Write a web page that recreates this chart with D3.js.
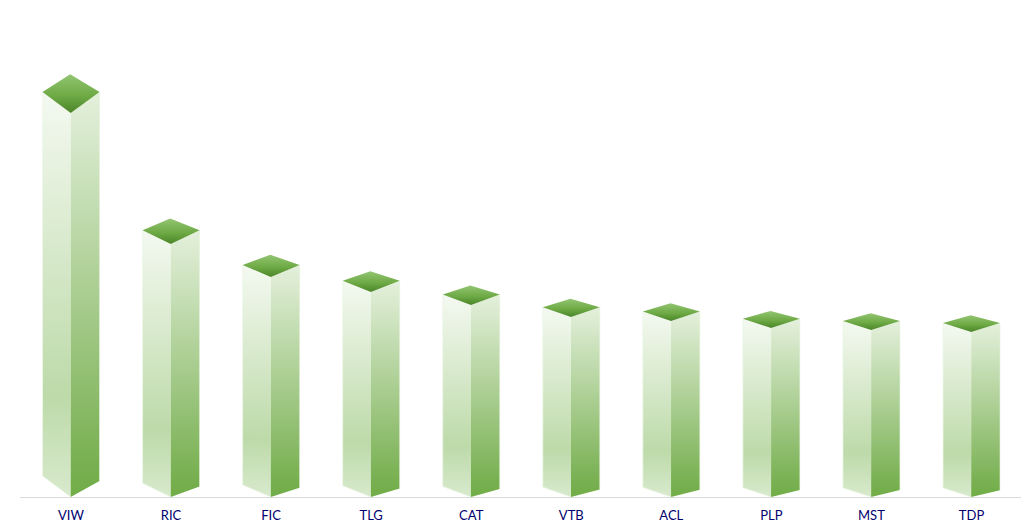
<!DOCTYPE html>
<html>
<head>
<meta charset="utf-8">
<script src="https://cdn.jsdelivr.net/npm/d3@7"></script>
<style>
html, body { margin: 0; padding: 0; background: #fff; }
svg { display: block; }
</style>
</head>
<body>
<div id="chart"></div>
<script>
var categories = ["VIW", "RIC", "FIC", "TLG", "CAT", "VTB", "ACL", "PLP", "MST", "TDP"];
var values = [384, 253, 220, 205, 192, 180, 176, 169, 167, 165];

var width = 1032, height = 530;
var baseline = 497;
var leftWidth = 28.2, rightWidth = 28.8;

var svg = d3.select("#chart").append("svg")
	.attr("width", width)
	.attr("height", height);

var x = d3.scalePoint()
	.domain(categories)
	.range([70.7, 971.2]);

var y = d3.scaleLinear()
	.domain([0, 384])
	.range([baseline, 113]);

// the box gets deeper as the value grows
var depth = d3.scaleLinear()
	.domain([165, 384])
	.range([9, 21]);

var line = d3.line();

function addGradient(defs, id, stops) {
	var g = defs.append("linearGradient")
		.attr("id", id)
		.attr("x1", 0).attr("y1", 0)
		.attr("x2", 0).attr("y2", 1);
	g.selectAll("stop")
		.data(stops)
		.enter()
	  .append("stop")
		.attr("offset", function (d) { return d[0]; })
		.attr("stop-color", function (d) { return d[1]; });
}

var defs = svg.append("defs");
addGradient(defs, "leftFace", [[0, "#f4f9f1"], [0.75, "#bddaa9"], [1, "#d8eacd"]]);
addGradient(defs, "rightFace", [[0, "#e4f0dc"], [0.92, "#78b051"], [1, "#70ad47"]]);
addGradient(defs, "topFace", [[0, "#93c572"], [0.55, "#6eaa45"], [1, "#4b8529"]]);

function leftPoints(d, i) {
	var cx = x(categories[i]), t = y(d), k = depth(d);
	return [[cx, t], [cx - leftWidth, t - k], [cx - leftWidth, baseline - k], [cx, baseline]];
}

function rightPoints(d, i) {
	var cx = x(categories[i]), t = y(d), k = depth(d);
	return [[cx, t], [cx + rightWidth, t - k], [cx + rightWidth, baseline - k * 0.76], [cx, baseline]];
}

function topPoints(d, i) {
	var cx = x(categories[i]), t = y(d), k = depth(d);
	return [[cx, t], [cx - leftWidth, t - k], [cx - 0.5, t - k * 1.85], [cx + rightWidth, t - k]];
}

svg.append("line")
	.attr("x1", 20)
	.attr("x2", 1021)
	.attr("y1", baseline + 0.5)
	.attr("y2", baseline + 0.5)
	.attr("stroke", "#d9d9d9")
	.attr("stroke-width", 1);

var bars = svg.selectAll("g.bar")
	.data(values)
	.enter()
  .append("g")
	.attr("class", "bar");

bars.append("path")
	.attr("d", function (d, i) { return line(leftPoints(d, i)) + "Z"; })
	.attr("fill", "url(#leftFace)");

bars.append("path")
	.attr("d", function (d, i) { return line(rightPoints(d, i)) + "Z"; })
	.attr("fill", "url(#rightFace)");

// pale rim on the outer edges only, the seam stays clean
bars.append("path")
	.attr("d", function (d, i) { return line(leftPoints(d, i).slice(1)); })
	.attr("fill", "none")
	.attr("stroke", "#eef6e9")
	.attr("stroke-opacity", 0.8)
	.attr("stroke-width", 1);

bars.append("path")
	.attr("d", function (d, i) { return line(rightPoints(d, i).slice(1, 3)); })
	.attr("fill", "none")
	.attr("stroke", "#e4f0dc")
	.attr("stroke-opacity", 0.6)
	.attr("stroke-width", 1);

bars.append("path")
	.attr("d", function (d, i) { return line(topPoints(d, i)) + "Z"; })
	.attr("fill", "url(#topFace)");

svg.selectAll("text.label")
	.data(categories)
	.enter()
  .append("text")
	.attr("class", "label")
	.attr("x", function (d) { return x(d) + 0.3; })
	.attr("y", 520)
	.attr("text-anchor", "middle")
	.attr("font-family", "Lato, sans-serif")
	.attr("font-size", 13)
	.attr("fill", "#00006e")
	.text(function (d) { return d; });
</script>
</body>
</html>
